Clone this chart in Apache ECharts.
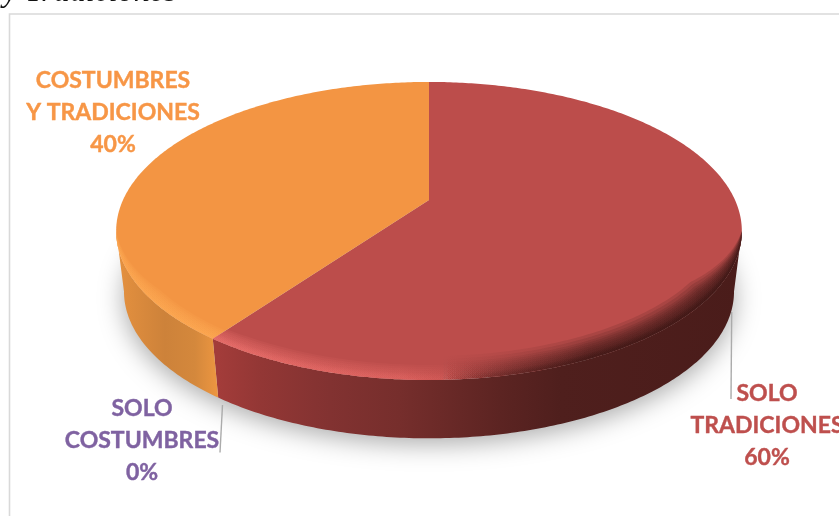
<!DOCTYPE html>
<html><head><meta charset="utf-8">
<style>html,body{margin:0;padding:0;background:#fff}#c{width:839px;height:516px}</style>
<script src="https://cdn.jsdelivr.net/npm/echarts@6/dist/echarts.min.js"></script>
</head><body><div id="c"></div>
<script>
const categories = ['SOLO\nTRADICIONES', 'SOLO\nCOSTUMBRES', 'COSTUMBRES\nY TRADICIONES'];
const values = [60, 0, 40];
const topColors = ['#BC4D4B', '#8064A2', '#F39543'];
const labelColors = ['#BE4F4D', '#7F62A1', '#F79646'];
const captionText = 'y Tradiciones';

// Layout of the tilted disc and of the outside labels
const CX = 429, CY = 200, PERSP = 0.2079, A = 142.6, B = 306;
const THICK = 61, BSX = 0.975, BSY = 0.985;
const WIDEST = 1.78; // angle of the widest point of the projected disc
const ELL_CY = 230, ELL_RX = 313, ELL_RY = 148;
const labelPlace = [[767, 426], [142, 441], [113, 113]];
const leaders = [[[731.7, 312], [731, 399]], [[222.5, 405], [220, 452.5]], null];

function proj(theta, sx, sy, dy) {
  const X = Math.sin(theta), Y = -Math.cos(theta), den = 1 - PERSP * Y;
  return [CX + (sx || 1) * B * X / den, CY + (sy || 1) * A * Y / den + (dy || 0)];
}
function arc(a0, a1, sx, sy, dy) {
  const n = Math.max(2, Math.ceil(Math.abs(a1 - a0) / 0.012)), pts = [];
  for (let i = 0; i <= n; i++) pts.push(proj(a0 + (a1 - a0) * i / n, sx, sy, dy));
  return pts;
}
function grad(stops) {
  const xs = 742 - 116;
  return {type: 'linear', x: 116, y: 0, x2: 742, y2: 0, global: true,
    colorStops: stops.map(s => ({offset: (s[0] - 116) / xs, color: s[1]}))};
}
const sideFill = [
  grad([[218,'#A33C3A'],[260,'#933735'],[330,'#823231'],[400,'#762E2C'],[500,'#5C2422'],[560,'#4F1F1D'],[742,'#4A1C1A']]),
  null,
  grad([[116,'#E5913F'],[165,'#CD823A'],[195,'#D4883C'],[219,'#EE9741'],[742,'#EE9741']])
];
const lightRim = a => grad([[216,`rgba(240,116,112,${a})`],[400,`rgba(232,106,102,${a*0.8})`],[500,`rgba(215,90,86,0)`],[742,`rgba(215,90,86,0)`]]);
const darkRim = a => grad([[216,`rgba(50,18,16,0)`],[440,`rgba(50,18,16,0)`],[590,`rgba(50,18,16,${a})`],[742,`rgba(50,18,16,${a*1.1})`]]);
const orangeRim = a => grad([[116,`rgba(255,172,85,${a})`],[742,`rgba(255,172,85,${a})`]]);
const total = values.reduce((s, v) => s + v, 0);
const tableData = categories.map((c, i) => ({name: c, value: values[i]}));

// inner edge of a bevel band: the rim moved inward by d, along the radius near a slice border
function inner(theta, d, a0, a1, lo, hi) {
  const p = proj(theta);
  let nx = -(p[0] - CX) / (ELL_RX * ELL_RX), ny = -(p[1] - ELL_CY) / (ELL_RY * ELL_RY);
  const nl = Math.hypot(nx, ny); nx /= nl; ny /= nl;
  let rx = CX - p[0], ry = CY - p[1];
  const rl = Math.hypot(rx, ry); rx /= rl; ry /= rl;
  let w = 1;
  if (lo) w = Math.min(w, (theta - a0) / 0.2);
  if (hi) w = Math.min(w, (a1 - theta) / 0.2);
  w = Math.max(0, Math.min(1, w));
  let taper = 1;
  if (!lo) taper = Math.min(taper, (theta - a0) / 0.45);
  if (!hi) taper = Math.min(taper, (a1 - theta) / 0.45);
  taper = Math.max(0, Math.min(1, taper));
  const ox = w * nx + (1 - w) * rx * 1.15, oy = w * ny + (1 - w) * ry * 1.15;
  return [p[0] + ox * d * taper, p[1] + oy * d * taper];
}
function band(f0, f1, d, lo, hi) {
  const pts = arc(f0, f1), back = [];
  const n = pts.length - 1;
  for (let j = n; j >= 0; j--) back.push(inner(f0 + (f1 - f0) * j / n, d, f0, f1, lo, hi));
  return pts.concat(back);
}
function renderShadow() {
  return {type: 'polygon', z2: 0, shape: {points: arc(0, Math.PI * 2, BSX, BSY * 0.99, THICK)},
    style: {fill: '#d4d4d4', shadowBlur: 26, shadowColor: 'rgba(0,0,0,0.34)', shadowOffsetY: 7}, silent: true};
}
function renderPie(params, api) {
  const i = params.dataIndex, v = api.value(0);
  let start = 0;
  for (let k = 0; k < i; k++) start += values[k];
  const a0 = start / total * Math.PI * 2, a1 = (start + v) / total * Math.PI * 2;
  const kids = [];
  if (v > 0) {
    const f0 = Math.max(a0, WIDEST), f1 = Math.min(a1, Math.PI * 2 - WIDEST);
    if (f1 > f0) {
      kids.push({type: 'polygon', z2: 1, shape: {points: arc(f0, f1).concat(arc(f1, f0, BSX, BSY, THICK))}, style: {fill: sideFill[i]}});
    }
    kids.push({type: 'polygon', z2: 2, shape: {points: arc(a0, a1).concat([[CX, CY]])}, style: {fill: topColors[i]}});
    if (f1 > f0) {
      const lo = f0 === a0, hi = f1 === a1;
      const add = (d, fill, j) => kids.push({type: 'polygon', z2: 3 + j, shape: {points: band(f0, f1, d, lo, hi)}, style: {fill}});
      if (i === 0) {
        [15,13,11,9,7,6,5,4,3,2].forEach((d, j) => add(d, lightRim(0.13), j));
        [24,21,18,16,14,12,10,8,6,5,4,3,2].forEach((d, j) => add(d, darkRim(0.135), 10 + j));
      } else {
        [13,11,9,7,5,3,2].forEach((d, j) => add(d, orangeRim(0.16), j));
      }
    }
  }
  const lp = labelPlace[i];
  kids.push({type: 'text', z2: 30, style: {x: lp[0], y: lp[1], text: categories[i] + '\n' + Math.round(v / total * 100) + '%',
    fill: labelColors[i], stroke: labelColors[i], lineWidth: 0.4, font: 'bold 23px Lato', align: 'center', verticalAlign: 'middle', lineHeight: 32}});
  if (leaders[i]) kids.push({type: 'polyline', z2: 30, shape: {points: leaders[i]},
    style: {stroke: '#ABABAB', lineWidth: 1.4, fill: 'none'}});
  return {type: 'group', children: kids};
}
const chart = echarts.init(document.getElementById('c'), null, {renderer: 'canvas'});
chart.setOption({
  animation: false,
  backgroundColor: '#fff',
  graphic: [
    {type: 'polyline', shape: {points: [[9.5, 516], [9.5, 14], [839, 14]]}, style: {stroke: '#D9D9D9', lineWidth: 1.6, fill: 'none'}, z: 0},
    {type: 'text', style: {x: 3, y: 9, text: captionText, fill: '#111', font: 'italic 32px "Liberation Serif"', verticalAlign: 'bottom', align: 'left'}, z: 0}
  ],
  series: [
    {type: 'custom', coordinateSystem: 'none', renderItem: renderShadow, data: [total], silent: true, z: 1, clip: false},
    {type: 'custom', coordinateSystem: 'none', renderItem: renderPie, data: tableData, silent: true, z: 2, clip: false}
  ]
});
</script></body></html>
